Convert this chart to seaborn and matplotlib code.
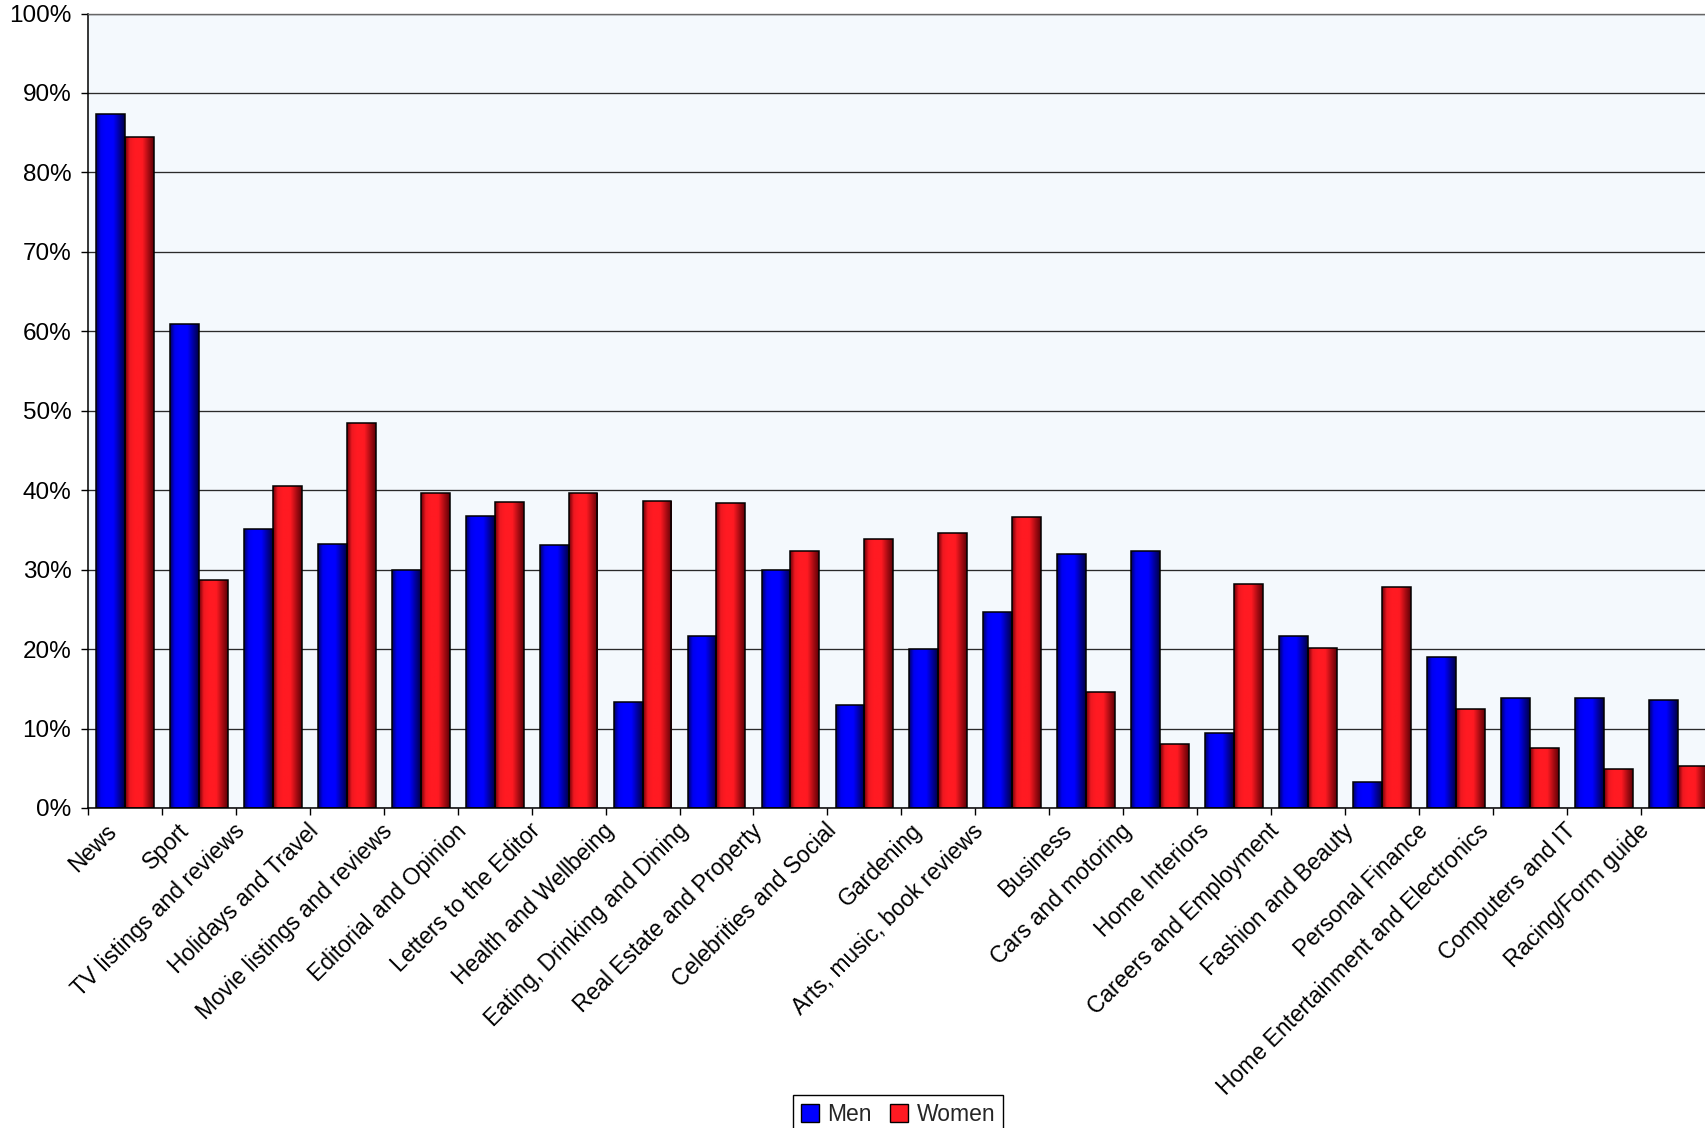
import numpy as np
import pandas as pd
import matplotlib
matplotlib.use("Agg")
import matplotlib.pyplot as plt
import matplotlib.transforms as mtransforms
from matplotlib.colors import LinearSegmentedColormap
from matplotlib.patches import Patch
from matplotlib.ticker import FuncFormatter, FixedLocator
import seaborn as sns

# Newspaper sections read regularly, by sex (share of readers)
categories = [
    "News", "Sport", "TV listings and reviews", "Holidays and Travel",
    "Movie listings and reviews", "Editorial and Opinion", "Letters to the Editor",
    "Health and Wellbeing", "Eating, Drinking and Dining", "Real Estate and Property",
    "Celebrities and Social", "Gardening", "Arts, music, book reviews", "Business",
    "Cars and motoring", "Home Interiors", "Careers and Employment",
    "Fashion and Beauty", "Personal Finance", "Home Entertainment and Electronics",
    "Computers and IT", "Racing/Form guide",
]
men = [0.873, 0.609, 0.351, 0.332, 0.300, 0.367, 0.331, 0.134, 0.216, 0.300, 0.130,
       0.200, 0.247, 0.320, 0.323, 0.094, 0.216, 0.033, 0.190, 0.138, 0.139, 0.136]
women = [0.845, 0.287, 0.405, 0.484, 0.396, 0.385, 0.397, 0.386, 0.384, 0.323, 0.339,
         0.346, 0.366, 0.146, 0.080, 0.282, 0.202, 0.278, 0.125, 0.076, 0.049, 0.053]
series = ["Men", "Women"]
y_ticks = [0.0, 0.1, 0.2, 0.3, 0.4, 0.5, 0.6, 0.7, 0.8, 0.9, 1.0]

colors = {"Men": "#0000FF", "Women": "#FF1A22"}
shades = {
    "Men": LinearSegmentedColormap.from_list(
        "men_shade", [(0.0, "#000066"), (0.16, "#0000EE"), (0.32, "#0000FF"),
                      (0.60, "#0000FF"), (1.0, "#000048")]),
    "Women": LinearSegmentedColormap.from_list(
        "women_shade", [(0.0, "#700008"), (0.16, "#EE1820"), (0.32, "#FF1A22"),
                        (0.60, "#FF1A22"), (1.0, "#600006")]),
}

df = pd.DataFrame({
    "Section": categories * 2,
    "Share": men + women,
    "Sex": ["Men"] * len(categories) + ["Women"] * len(categories),
})

sns.set_theme(style="white")
plt.rcParams["font.family"] = ["Liberation Sans", "DejaVu Sans"]

W, H = 1705, 1128
fig = plt.figure(figsize=(W / 100, H / 100), dpi=100)
ax_left, ax_right, ax_top, ax_bottom = 88, 1714.7, 13.5, 808
ax = fig.add_axes([ax_left / W, 1 - ax_bottom / H, (ax_right - ax_left) / W,
                   (ax_bottom - ax_top) / H])
ax.set_facecolor("#F4F9FD")

sns.barplot(data=df, x="Section", y="Share", hue="Sex", hue_order=series,
            palette=colors, width=0.78, gap=0, edgecolor="black", linewidth=1.1,
            saturation=1, legend=False, ax=ax)

# Shaded cylinder-like fill for every bar, clipped to the bar outline
grad = np.linspace(0, 1, 64).reshape(1, -1)
n = len(categories)
for i, bar in enumerate(list(ax.patches)):
    sex = series[i // n]
    x0, y0 = bar.get_x(), bar.get_y()
    w, h = bar.get_width(), bar.get_height()
    im = ax.imshow(grad, cmap=shades[sex], aspect="auto",
                   extent=(x0, x0 + w, y0, y0 + h), zorder=1.5,
                   interpolation="bilinear")
    im.set_clip_path(bar)
    bar.set_facecolor("none")
    bar.set_zorder(2)

ax.set_xlim(-0.5, n - 0.5)
ax.set_ylim(0, 1.0)
ax.set_xlabel("")
ax.set_ylabel("")

# Horizontal gridlines
ax.set_axisbelow(True)
ax.yaxis.set_major_locator(FixedLocator(y_ticks))
ax.yaxis.set_major_formatter(FuncFormatter(lambda v, _: f"{v * 100:.0f}%"))
ax.grid(axis="y", color="#2a2a2a", linewidth=0.95)
ax.grid(axis="x", visible=False)

ax.spines["right"].set_visible(False)
ax.spines["top"].set_color("#666666")
ax.spines["top"].set_linewidth(1.0)
for side in ["left", "bottom"]:
    ax.spines[side].set_color("black")
    ax.spines[side].set_linewidth(1.1)

ax.tick_params(axis="y", which="major", direction="out", length=5, width=1,
               color="black", left=True, pad=7, labelsize=17.5, labelcolor="black")

# Category labels near bar-group centres, tick marks between groups
ax.set_xticks(range(n))
ax.set_xticks(np.arange(-0.5, n, 1.0), minor=True)
ax.set_xticklabels(categories, rotation=45, ha="right", va="center",
                   rotation_mode="anchor", fontsize=16.5, color="black")
ax.tick_params(axis="x", which="major", length=0, pad=14, bottom=True)
ax.tick_params(axis="x", which="minor", direction="out", length=5, width=1,
               color="black", bottom=True)


def label_shift_px(text):
    # longer labels sit further left of their group centre
    k = len(text)
    if k > 30:
        return -45
    return -min(12 + 1.6 * max(k - 4, 0), 32)


for lab in ax.get_xticklabels():
    dx = label_shift_px(lab.get_text())
    shift = mtransforms.ScaledTranslation(dx / 100, 0, fig.dpi_scale_trans)
    lab.set_transform(lab.get_transform() + shift)

handles = [Patch(facecolor=colors[s], edgecolor="black", linewidth=1.0, label=s)
           for s in series]
leg = fig.legend(handles=handles, loc="upper center",
                 bbox_to_anchor=(898 / W, 1 - 1095 / H), ncol=2, frameon=True,
                 fancybox=False, edgecolor="black", framealpha=1, fontsize=16.5,
                 handlelength=0.8, handleheight=0.8, handletextpad=0.35,
                 columnspacing=0.8, borderpad=0.35, borderaxespad=0)
leg.get_frame().set_linewidth(1.0)

fig.savefig("out.png", dpi=100, facecolor="white")
